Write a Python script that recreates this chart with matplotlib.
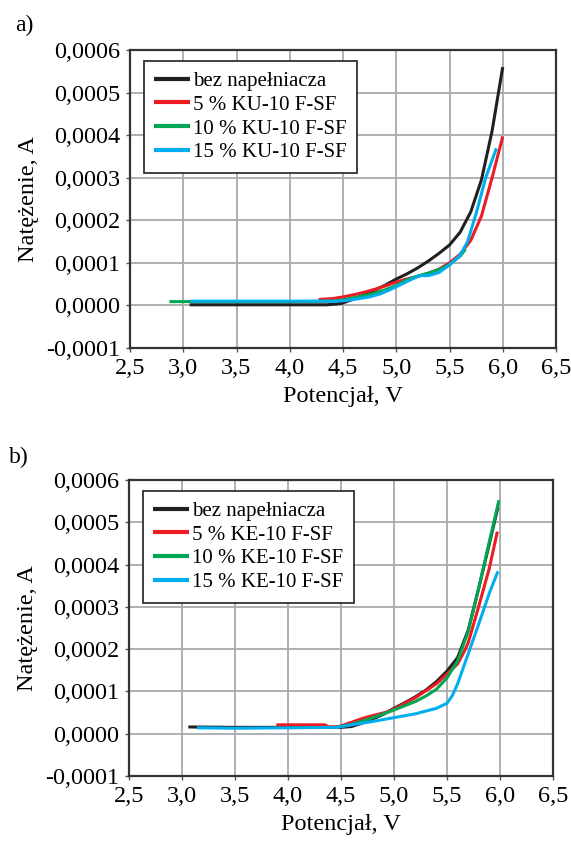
import numpy as np
import matplotlib
matplotlib.use("Agg")
import matplotlib.pyplot as plt
from matplotlib.ticker import FuncFormatter, MultipleLocator

plt.rcParams['font.family'] = ['Liberation Serif', 'DejaVu Serif']

# panel a) - KU-10 F-SF
a_black_x = [3.06, 4.35, 4.42, 4.49, 4.6, 4.7, 4.8, 4.9, 5.0, 5.1, 5.2, 5.3, 5.4, 5.5, 5.6, 5.7, 5.8, 5.9, 6.0]
a_black_y = [0.015, 0.015, 0.03, 0.05, 0.15, 0.25, 0.36, 0.48, 0.62, 0.74, 0.88, 1.04, 1.22, 1.42, 1.72, 2.2, 2.95, 4.1, 5.6]
a_red_x = [4.27, 4.4, 4.5, 4.6, 4.7, 4.8, 4.9, 5.0, 5.1, 5.2, 5.3, 5.4, 5.5, 5.6, 5.7, 5.8, 5.9, 6.0]
a_red_y = [0.14, 0.16, 0.2, 0.25, 0.31, 0.38, 0.46, 0.55, 0.62, 0.68, 0.75, 0.85, 1.0, 1.2, 1.53, 2.1, 3.0, 3.97]
a_green_x = [2.87, 3.5, 4.0, 4.4, 4.5, 4.6, 4.7, 4.8, 4.9, 5.0, 5.1, 5.2, 5.3, 5.4, 5.5, 5.6, 5.65]
a_green_y = [0.09, 0.09, 0.09, 0.1, 0.13, 0.18, 0.23, 0.29, 0.37, 0.47, 0.6, 0.69, 0.76, 0.84, 0.96, 1.16, 1.32]
a_blue_x = [3.07, 3.5, 4.0, 4.45, 4.55, 4.65, 4.75, 4.85, 4.95, 5.05, 5.15, 5.22, 5.3, 5.4, 5.5, 5.6, 5.67, 5.75, 5.84, 5.94]
a_blue_y = [0.1, 0.1, 0.1, 0.1, 0.12, 0.16, 0.2, 0.27, 0.38, 0.5, 0.62, 0.7, 0.7, 0.77, 0.95, 1.18, 1.5, 2.16, 3.0, 3.69]

# panel b) - KE-10 F-SF
b_black_x = [3.06, 3.5, 4.0, 4.5, 4.6, 4.7, 4.8, 4.9, 5.0, 5.1, 5.2, 5.3, 5.4, 5.5, 5.6, 5.7, 5.8, 5.9, 5.98]
b_black_y = [0.16, 0.15, 0.15, 0.15, 0.17, 0.25, 0.35, 0.46, 0.6, 0.73, 0.87, 1.03, 1.23, 1.48, 1.8, 2.45, 3.45, 4.5, 5.35]
b_red_x = [3.89, 4.35, 4.38, 4.48, 4.6, 4.7, 4.8, 4.93, 5.0, 5.2, 5.4, 5.6, 5.67, 5.7, 5.8, 5.9, 5.975]
b_red_y = [0.21, 0.21, 0.16, 0.17, 0.27, 0.36, 0.43, 0.51, 0.58, 0.85, 1.18, 1.65, 1.98, 2.15, 3.02, 3.92, 4.78]
b_green_x = [4.45, 4.6, 4.7, 4.8, 4.9, 5.0, 5.1, 5.2, 5.3, 5.4, 5.5, 5.6, 5.7, 5.8, 5.9, 5.99]
b_green_y = [0.15, 0.22, 0.3, 0.38, 0.47, 0.56, 0.66, 0.76, 0.89, 1.05, 1.32, 1.72, 2.42, 3.45, 4.55, 5.52]
b_blue_x = [3.14, 3.5, 4.0, 4.46, 4.6, 4.8, 5.0, 5.2, 5.4, 5.5, 5.55, 5.6, 5.7, 5.8, 5.9, 5.98]
b_blue_y = [0.14, 0.13, 0.14, 0.15, 0.21, 0.29, 0.38, 0.47, 0.6, 0.72, 0.9, 1.18, 1.89, 2.6, 3.33, 3.84]

labels_a = ['bez napełniacza', '5 % KU-10 F-SF', '10 % KU-10 F-SF', '15 % KU-10 F-SF']
labels_b = ['bez napełniacza', '5 % KE-10 F-SF', '10 % KE-10 F-SF', '15 % KE-10 F-SF']
colors = ['#231f20', '#ed1c24', '#00a651', '#00aeef']

def comma(v, pos, nd):
    return ('%.*f' % (nd, v)).replace('.', ',')

fig = plt.figure(figsize=(5.71, 8.43), dpi=100)
ax_a = fig.add_axes([130/571, 1-348/843, 426/571, 298/843])
ax_b = fig.add_axes([129/571, 1-776/843, 424/571, 296/843])

panels = [
    (ax_a, [(a_black_x, a_black_y), (a_red_x, a_red_y), (a_green_x, a_green_y), (a_blue_x, a_blue_y)], labels_a),
    (ax_b, [(b_black_x, b_black_y), (b_red_x, b_red_y), (b_green_x, b_green_y), (b_blue_x, b_blue_y)], labels_b),
]

for ax, series, labels in panels:
    for (xs, ys), c, lab in zip(series, colors, labels):
        ax.plot(xs, np.array(ys) * 1e-4, color=c, lw=2.2, label=lab, solid_capstyle='butt')
    ax.set_xlim(2.5, 6.5)
    ax.set_ylim(-0.0001, 0.0006)
    ax.xaxis.set_major_locator(MultipleLocator(0.5))
    ax.yaxis.set_major_locator(MultipleLocator(0.0001))
    ax.xaxis.set_major_formatter(FuncFormatter(lambda v, p: comma(v, p, 1)))
    ax.yaxis.set_major_formatter(FuncFormatter(lambda v, p: comma(v, p, 4)))
    ax.grid(True, color='#a7a9ac', lw=1.3)
    ax.set_axisbelow(True)
    for s in ax.spines.values():
        s.set_color('#333333')
        s.set_linewidth(1.6)
    ax.tick_params(direction='out', length=3, width=1, color='#555555', labelsize=17.5)
    ax.tick_params(axis='x', pad=4)
    ax.tick_params(axis='y', pad=4)
    ax.set_xlabel('Potencjał, V', fontsize=17.5, labelpad=5)
    ax.set_ylabel('Natężenie, A', fontsize=17.5, labelpad=5)
    leg = ax.legend(loc='upper left', bbox_to_anchor=(14/426, 1-11/298), borderaxespad=0,
                    fontsize=15, fancybox=False, framealpha=1, edgecolor='#231f20',
                    handlelength=1.7, handletextpad=0.15, labelspacing=0.2,
                    borderpad=0.5)
    leg.get_frame().set_linewidth(1.2)
    for h in leg.get_lines():
        h.set_linewidth(3)

fig.text(24/571, 1-25/843, 'a)', fontsize=17, ha='center', va='center')
fig.text(19/571, 1-457/843, 'b)', fontsize=17, ha='center', va='center')

fig.savefig('out.png', dpi=100)
